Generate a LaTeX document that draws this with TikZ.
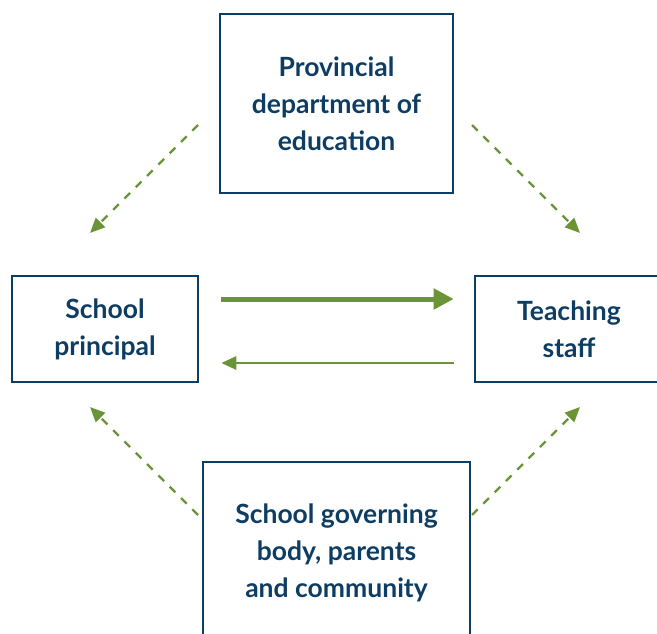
\documentclass[tikz,border=0pt]{standalone}
\usepackage{fontspec}
\setmainfont{Lato}
\usetikzlibrary{arrows.meta,calc}
\definecolor{navy}{HTML}{0E3D64}
\definecolor{leaf}{HTML}{6A9436}
\tikzset{
  box/.style={draw=navy, line width=2.6pt, text=navy, align=center,
    font=\fontsize{26.5}{37}\selectfont\bfseries, inner sep=0pt},
  dasharrow/.style={draw=leaf, line width=2.4pt, dash pattern=on 8pt off 8pt,
    -{Triangle[length=15pt,width=13pt]}},
  thickarrow/.style={draw=leaf, line width=5pt, -{Triangle[length=20pt,width=20pt]}},
  thinarrow/.style={draw=leaf, line width=2.8pt, -{Triangle[length=15pt,width=13pt]}}
}
\begin{document}
\begin{tikzpicture}[x=1pt,y=-1pt]
\useasboundingbox (0,0) rectangle (657,634);
\clip (0,0) rectangle (657,634);
\node[box, minimum width=233pt, minimum height=179pt] (dept) at (336.5,103.5)
  {Provincial\\department of\\education};
\node[box, minimum width=186pt, minimum height=106pt] (principal) at (105,329)
  {School\\principal};
\node[box, minimum width=188pt, minimum height=106pt] (staff) at (569,329)
  {Teaching\\staff};
\node[box, minimum width=267pt, minimum height=182pt] (sgb) at (336.5,553)
  {School governing\\body, parents\\and community};
\coordinate (dtl) at (198,125);
\coordinate (dtr) at (472,125);
\coordinate (pt) at (90,233);
\coordinate (st) at (580,233);
\coordinate (pb) at (90,407);
\coordinate (sb) at (580,407);
\coordinate (gbl) at (198,515);
\coordinate (gbr) at (472,515);
\draw[dasharrow] (dtl) -- (pt);
\draw[dasharrow] (dtr) -- (st);
\draw[dasharrow] (gbl) -- (pb);
\draw[dasharrow] (gbr) -- (sb);
\coordinate (a1) at ($(principal.east)+(22,-30)$);
\coordinate (a2) at ($(staff.west)+(-20,-30)$);
\coordinate (b1) at ($(staff.west)+(-20,34)$);
\coordinate (b2) at ($(principal.east)+(22,34)$);
\draw[thickarrow] (a1) -- (a2);
\draw[thinarrow] (b1) -- (b2);
\end{tikzpicture}
\end{document}
